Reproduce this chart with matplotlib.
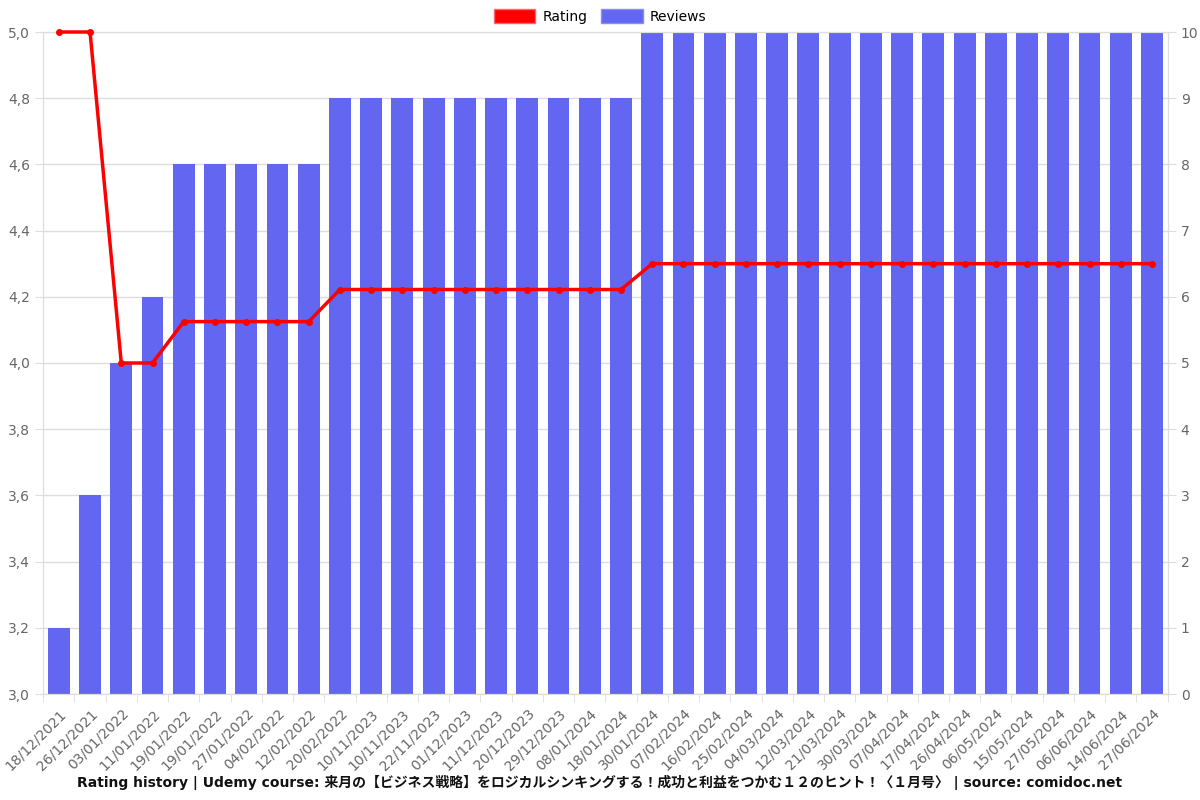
import matplotlib
matplotlib.use('Agg')
from matplotlib import pyplot as plt
from matplotlib.ticker import FuncFormatter, FixedLocator
from matplotlib.patches import Patch

plt.rcParams['font.family'] = ['DejaVu Sans', 'Noto Sans CJK JP']

dates = ['18/12/2021', '26/12/2021', '03/01/2022', '11/01/2022', '19/01/2022',
         '19/01/2022', '27/01/2022', '04/02/2022', '12/02/2022', '20/02/2022',
         '10/11/2023', '10/11/2023', '22/11/2023', '01/12/2023', '11/12/2023',
         '20/12/2023', '29/12/2023', '08/01/2024', '18/01/2024', '30/01/2024',
         '07/02/2024', '16/02/2024', '25/02/2024', '04/03/2024', '12/03/2024',
         '21/03/2024', '30/03/2024', '07/04/2024', '17/04/2024', '26/04/2024',
         '06/05/2024', '15/05/2024', '27/05/2024', '06/06/2024', '14/06/2024',
         '27/06/2024']
reviews = [1, 3, 5, 6, 8, 8, 8, 8, 8, 9, 9, 9, 9, 9, 9, 9, 9, 9, 9,
           10, 10, 10, 10, 10, 10, 10, 10, 10, 10, 10, 10, 10, 10, 10, 10, 10]
rating = [5.0, 5.0, 4.0, 4.0, 4.125, 4.125, 4.125, 4.125, 4.125,
          4.222, 4.222, 4.222, 4.222, 4.222, 4.222, 4.222, 4.222, 4.222, 4.222,
          4.3, 4.3, 4.3, 4.3, 4.3, 4.3, 4.3, 4.3, 4.3, 4.3, 4.3, 4.3, 4.3,
          4.3, 4.3, 4.3, 4.3]

title = ('Rating history | Udemy course: 来月の【ビジネス戦略】をロジカルシンキングする！'
         '成功と利益をつかむ１２のヒント！〈１月号〉 | source: comidoc.net')

grid_c = '#dddddd'
text_c = '#666666'
x = list(range(len(dates)))

fig = plt.figure(figsize=(12, 8), dpi=100)
ax = fig.add_axes([0.036, 0.1325, 0.937, 0.8275])
ax2 = ax.twinx()

# bars on the right axis, grid drawn underneath them
ax2.set_axisbelow(True)
ax2.bar(x, reviews, width=0.7, color='#6366f1', zorder=2)
ax2.set_ylim(0, 10)
ax2.set_yticks(range(0, 11))
ax2.yaxis.set_major_formatter(FuncFormatter(lambda v, p: '%d' % v))
ax2.grid(True, which='major', axis='y', color=grid_c, lw=1)

ax.set_zorder(ax2.get_zorder() + 1)
ax.patch.set_visible(False)
ax.plot(x, rating, color='#ff0000', lw=2.5, marker='o', ms=4, zorder=5, clip_on=False)
ax.set_ylim(3.0, 5.0)
ax.set_yticks([3.0 + 0.2 * i for i in range(11)])
ax.yaxis.set_major_formatter(FuncFormatter(lambda v, p: ('%.1f' % v).replace('.', ',')))
ax.set_xlim(-0.5, len(dates) - 0.5)

ax.set_xticks(x)
ax.set_xticklabels(dates, rotation=45, ha='right', rotation_mode='anchor')
ax.xaxis.set_minor_locator(FixedLocator([i - 0.5 for i in range(len(dates) + 1)]))
ax.tick_params(axis='x', which='major', length=0, pad=9)
ax.tick_params(axis='x', which='minor', length=6, color=grid_c)
ax2.grid(True, which='minor', axis='x', color='#e8e8e8', lw=1)

for a in (ax, ax2):
    a.tick_params(axis='y', length=6, color=grid_c, labelcolor=text_c, labelsize=10)
    a.tick_params(axis='x', labelcolor=text_c, labelsize=10)
    for s in a.spines.values():
        s.set_color(grid_c)

handles = [Patch(facecolor='#ff0000', edgecolor='#ff6666'),
           Patch(facecolor='#6366f1', edgecolor='#8a8cf5')]
fig.legend(handles, ['Rating', 'Reviews'], loc='upper center', ncol=2,
           bbox_to_anchor=(0.5, 1.004), frameon=False, fontsize=10,
           handlelength=3.0, handleheight=1.1, columnspacing=1.0, handletextpad=0.5)

fig.text(0.5, 0.022, title, ha='center', va='center', fontsize=10,
         fontweight='bold', color='#111111')

fig.savefig('out.png')
